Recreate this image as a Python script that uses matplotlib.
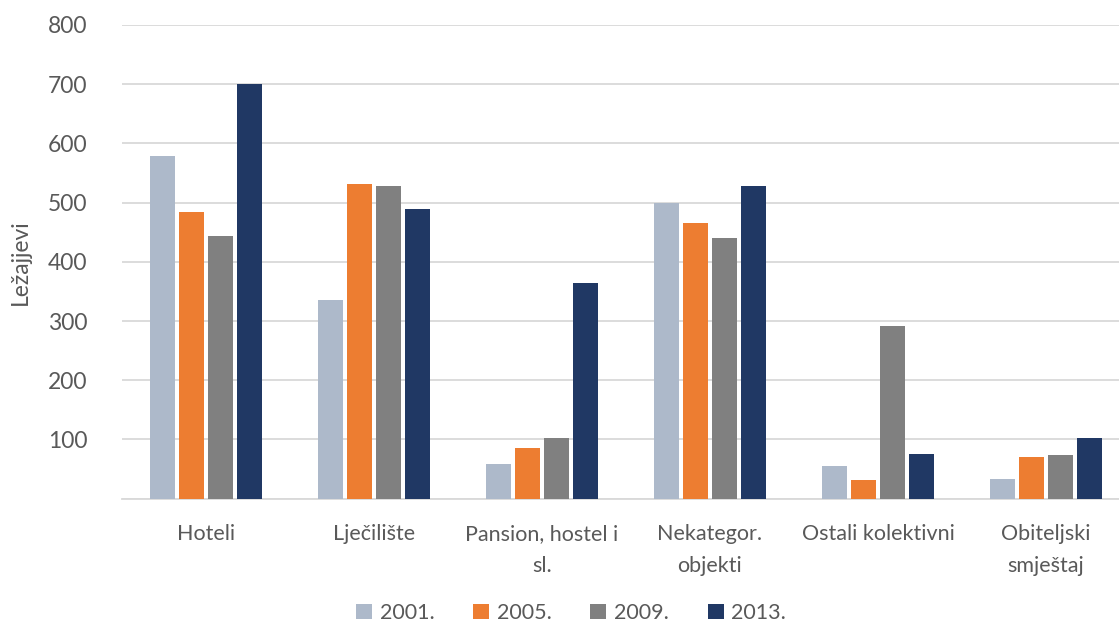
import numpy as np
import matplotlib.pyplot as plt

plt.rcParams['font.family'] = ['Lato', 'DejaVu Sans']

categories = ['Hoteli', 'Lječilište', 'Pansion, hostel i\nsl.', 'Nekategor.\nobjekti',
              'Ostali kolektivni', 'Obiteljski\nsmještaj']
years = ['2001.', '2005.', '2009.', '2013.']
v2001 = [578, 335, 58, 500, 56, 34]
v2005 = [484, 531, 86, 465, 31, 70]
v2009 = [443, 528, 103, 440, 292, 73]
v2013 = [701, 489, 364, 528, 75, 103]
series = [v2001, v2005, v2009, v2013]
colors = ['#ADB9CA', '#ED7D31', '#808080', '#203864']

txt = '#595959'
grid = '#D9D9D9'

fig = plt.figure(figsize=(11.19, 6.34), dpi=100)
ax = fig.add_axes([122 / 1119, 1 - 498.7 / 634, 1008 / 1119, (498.7 - 25) / 634])

x = np.arange(len(categories))
step = 0.172
for i, (vals, c) in enumerate(zip(series, colors)):
    ax.bar(x + (i - 1.5) * step, vals, width=0.15, color=c, label=years[i], zorder=3)

ax.set_xlim(-0.5, len(categories) - 0.5)
ax.set_ylim(0, 800)
ax.set_yticks(range(0, 801, 100))
ax.set_yticklabels([''] + [str(v) for v in range(100, 801, 100)])
ax.set_xticks(x)
ax.set_xticklabels(categories, linespacing=1.75)
ax.yaxis.grid(True, color=grid, linewidth=1.3, zorder=0)
for s in ['top', 'right', 'left']:
    ax.spines[s].set_visible(False)
ax.spines['bottom'].set_color(grid)
ax.spines['bottom'].set_linewidth(1.3)
ax.tick_params(axis='y', length=0, pad=25, labelsize=16.5, labelcolor=txt)
ax.tick_params(axis='x', length=0, pad=18, labelsize=15.5, labelcolor=txt)
ax.set_ylabel('Ležajjevi', fontsize=16.5, color=txt, labelpad=12)

fig.legend(loc='center', bbox_to_anchor=(571 / 1119, 1 - 613 / 634), ncol=4, frameon=False,
           fontsize=15.5, labelcolor=txt, handlelength=0.75, handleheight=0.75,
           handletextpad=0.35, columnspacing=1.8)

fig.savefig('out.png', dpi=100)
